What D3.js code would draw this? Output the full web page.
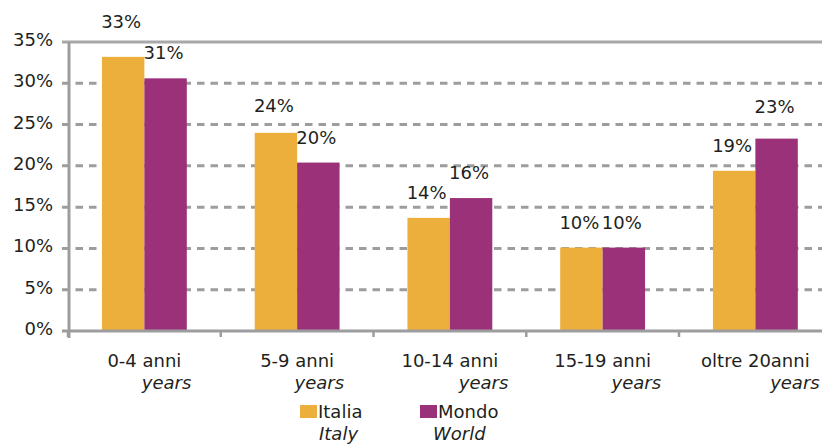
<!DOCTYPE html>
<html>
<head>
<meta charset="utf-8">
<script src="https://cdn.jsdelivr.net/npm/d3@7"></script>
<style>
  body { margin: 0; background: #fff; }
  #chart { width: 822px; height: 446px; }
  text { font-family: "DejaVu Sans", sans-serif; fill: #231f20; font-size: 18px; }
</style>
</head>
<body>
<div id="chart"></div>
<script>
// age classes (Italian label + English sub-label)
var categories = ["0-4 anni", "5-9 anni", "10-14 anni", "15-19 anni", "oltre 20anni"];
var subLabel = "years";
var seriesNames = ["Italia", "Mondo"];
var seriesSub = ["Italy", "World"];
var italia = [33.2, 24.0, 13.7, 10.1, 19.4];
var mondo = [30.6, 20.4, 16.1, 10.1, 23.3];
var yTicks = [0, 5, 10, 15, 20, 25, 30, 35];

var colors = ["#edaf3b", "#9b3279"];
// small hand nudges of a few value labels, as in the original
var labelLift = { "0-Italia": 10, "1-Italia": 2, "4-Mondo": 7 };

(function() {
  var w = 822, h = 446;
  var svg = d3.select("#chart").append("svg")
    .attr("width", w).attr("height", h);

  var step = 152.75;
  var x0 = d3.scaleBand().domain(categories).range([68, 68 + step * categories.length]);
  var x1 = d3.scaleBand().domain(seriesNames).range([0, x0.bandwidth()]).paddingOuter(0.8);
  var y = d3.scaleLinear().domain([0, 35]).range([331, 42]);

  var grey = "#9d9d9f";

  // dashed gridlines
  svg.selectAll(".grid").data(yTicks.filter(function(d) { return d > 0 && d < 35; }))
    .enter().append("line")
    .attr("x1", 62).attr("x2", w)
    .attr("y1", function(d) { return y(d); })
    .attr("y2", function(d) { return y(d); })
    .attr("stroke", grey).attr("stroke-width", 3)
    .attr("stroke-dasharray", "7.5 6");

  // top border line
  svg.append("line")
    .attr("x1", 62).attr("x2", w)
    .attr("y1", y(35)).attr("y2", y(35))
    .attr("stroke", "#a8a8aa").attr("stroke-width", 3);

  // bars
  var rows = categories.map(function(c, i) {
    return [{ cat: c, i: i, s: "Italia", v: italia[i] }, { cat: c, i: i, s: "Mondo", v: mondo[i] }];
  });
  var g = svg.selectAll(".cat").data(rows).enter().append("g")
    .attr("transform", function(d) { return "translate(" + x0(d[0].cat) + ",0)"; });

  g.selectAll("rect").data(function(d) { return d; }).enter().append("rect")
    .attr("x", function(d) { return x1(d.s); })
    .attr("width", x1.bandwidth())
    .attr("y", function(d) { return y(d.v); })
    .attr("height", function(d) { return y(0) - y(d.v); })
    .attr("fill", function(d, j) { return colors[j]; });

  g.selectAll(".val").data(function(d) { return d; }).enter().append("text")
    .attr("x", function(d) { return x1(d.s) + x1.bandwidth() / 2 - 2; })
    .attr("y", function(d) { return y(d.v) - 19 - (labelLift[d.i + "-" + d.s] || 0); })
    .attr("text-anchor", "middle")
    .text(function(d) { return Math.round(d.v) + "%"; });

  // y axis
  svg.append("line")
    .attr("x1", 69).attr("x2", 69).attr("y1", y(35)).attr("y2", 338)
    .attr("stroke", grey).attr("stroke-width", 3);
  svg.selectAll(".ylab").data(yTicks).enter().append("text")
    .attr("x", 53).attr("y", function(d) { return y(d) + 4; })
    .attr("text-anchor", "end")
    .text(function(d) { return d + "%"; });

  // x axis
  svg.append("line")
    .attr("x1", 62).attr("x2", w).attr("y1", y(0)).attr("y2", y(0))
    .attr("stroke", grey).attr("stroke-width", 3);
  svg.selectAll(".xtick").data(categories).enter().append("line")
    .attr("x1", function(d) { return x0(d); }).attr("x2", function(d) { return x0(d); })
    .attr("y1", y(0)).attr("y2", y(0) + 6)
    .attr("stroke", grey).attr("stroke-width", 2.5);

  var xl = svg.selectAll(".xlab").data(categories).enter().append("g");
  xl.append("text")
    .attr("class", "main")
    .attr("x", function(d) { return x0(d) + x0.bandwidth() / 2; })
    .attr("y", 367)
    .attr("text-anchor", "middle")
    .text(function(d) { return d; });
  xl.append("text")
    .attr("x", function(d) {
      var len = d3.select(this.parentNode).select(".main").node().getComputedTextLength();
      return x0(d) + x0.bandwidth() / 2 + len / 2 + 10;
    })
    .attr("y", 389)
    .attr("text-anchor", "end")
    .style("font-style", "italic")
    .text(subLabel);

  // legend
  var lg = svg.selectAll(".leg").data(seriesNames).enter().append("g")
    .attr("transform", function(d, i) { return "translate(" + (300 + i * 120) + ",0)"; });
  lg.append("rect").attr("x", 0).attr("y", 405).attr("width", 17).attr("height", 13)
    .attr("fill", function(d, i) { return colors[i]; });
  lg.append("text").attr("x", 18).attr("y", 418)
    .text(function(d) { return d; });
  lg.append("text").attr("x", function(d, i) { return i === 0 ? 19 : 13; }).attr("y", 440)
    .style("font-style", "italic")
    .text(function(d, i) { return seriesSub[i]; });
})();
</script>
</body>
</html>
